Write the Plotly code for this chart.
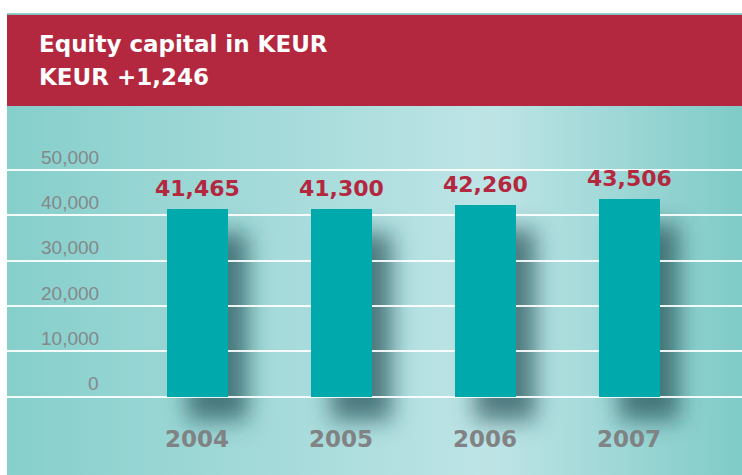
import base64
import plotly.graph_objects as go

# ---- data ----
years = ["2004", "2005", "2006", "2007"]
equity = [41465, 41300, 42260, 43506]
tick_vals = [0, 10000, 20000, 30000, 40000, 50000]
tick_labels = ["0", "10,000", "20,000", "30,000", "40,000", "50,000"]
title_lines = ["Equity capital in KEUR", "KEUR +1,246"]

# ---- style ----
W, H = 742, 475
M_L, M_R, M_T, M_B = 7, 0, 106, 0
PW, PH = W - M_L - M_R, H - M_T - M_B
x_range = [-1.323, 3.785]
y_range = [-17270, 64116]
px_per_cat = PW / (x_range[1] - x_range[0])
px_per_val = PH / (y_range[1] - y_range[0])
bar_w = 0.424
RED = "#B4283F"
BAR = "#00A9AB"
GRAY_TICK = "#858889"
GRAY_YEAR = "#808284"


def svg_uri(svg):
    return "data:image/svg+xml;base64," + base64.b64encode(svg.encode()).decode()


fig = go.Figure()
fig.add_trace(go.Bar(
    x=years, y=equity, width=bar_w,
    marker=dict(color=BAR, line=dict(width=0)),
    hoverinfo="x+y", showlegend=False,
))

images = []
# gradient background
bg_svg = ('<svg xmlns="http://www.w3.org/2000/svg" width="735" height="369" viewBox="0 0 100 100" '
          'preserveAspectRatio="none"><defs><linearGradient id="g" x1="0" x2="1" y1="0" y2="0">'
          '<stop offset="0" stop-color="#86CFCB"/><stop offset="0.66" stop-color="#BEE4E6"/>'
          '<stop offset="1" stop-color="#7FCBC7"/></linearGradient></defs>'
          '<rect x="0" y="0" width="100" height="100" fill="url(#g)"/></svg>')
images.append(dict(source=svg_uri(bg_svg), xref="paper", yref="paper", x=0, y=1,
                   sizex=1, sizey=1, xanchor="left", yanchor="top",
                   sizing="stretch", layer="below"))

# blurred drop shadows, placed in data coordinates behind each bar
sdx, sdy, sigma = 20, 24, 11
pad = 3 * sigma
for i, v in enumerate(equity):
    w_px = bar_w * px_per_cat
    h_px = v * px_per_val
    sw, sh = w_px + 2 * pad, h_px + 2 * pad
    sh_svg = (f'<svg xmlns="http://www.w3.org/2000/svg" width="{sw:.1f}" height="{sh:.1f}" '
              f'viewBox="0 0 {sw:.1f} {sh:.1f}" preserveAspectRatio="none">'
              f'<defs><filter id="b" filterUnits="userSpaceOnUse" x="0" y="0" '
              f'width="{sw:.1f}" height="{sh:.1f}"><feGaussianBlur stdDeviation="{sigma}"/></filter></defs>'
              f'<rect x="{pad}" y="{pad}" width="{w_px:.1f}" height="{h_px:.1f}" '
              f'fill="rgb(25,75,80)" fill-opacity="0.68" filter="url(#b)"/></svg>')
    images.append(dict(source=svg_uri(sh_svg), xref="x", yref="y",
                       x=i - bar_w / 2 + (sdx - pad) / px_per_cat,
                       y=v + (pad - sdy) / px_per_val,
                       sizex=sw / px_per_cat, sizey=sh / px_per_val,
                       xanchor="left", yanchor="top", sizing="stretch", layer="below"))

shapes = []
# header band
band_top = 1 + (M_T - 14.5) / PH
shapes.append(dict(type="rect", xref="paper", yref="paper", x0=0, x1=1,
                   y0=1, y1=band_top, fillcolor=RED, line=dict(width=0), layer="above"))
shapes.append(dict(type="line", xref="paper", yref="paper", x0=0, x1=1,
                   y0=band_top + 0.6 / PH, y1=band_top + 0.6 / PH,
                   line=dict(color="#6FC4C0", width=1.5), layer="above"))

annotations = []
# title lines
for txt, ypx in zip(title_lines, [44, 77]):
    annotations.append(dict(text=txt, xref="paper", yref="paper",
                            x=(37 - M_L) / PW, y=1 + (M_T - ypx) / PH,
                            xanchor="left", yanchor="middle", showarrow=False,
                            font=dict(family="DejaVu Sans", size=23, color="white", weight=700)))
# y tick labels above gridlines
for tv, tl in zip(tick_vals, tick_labels):
    annotations.append(dict(text=tl, xref="paper", yref="y", x=(101 - M_L) / PW, y=tv,
                            xanchor="right", yanchor="middle", yshift=13, showarrow=False,
                            font=dict(family="Liberation Sans", size=19, color=GRAY_TICK)))
# value labels (x = category index)
for i, v in enumerate(equity):
    annotations.append(dict(text=f"{v:,}", x=i, y=v, xref="x", yref="y",
                            xanchor="center", yanchor="bottom", yshift=6, showarrow=False,
                            font=dict(family="DejaVu Sans", size=22, color=RED, weight=700)))
# year labels
for i, yr in enumerate(years):
    annotations.append(dict(text=yr, x=i, y=0, xref="x", yref="y",
                            xanchor="center", yanchor="middle", yshift=-42, showarrow=False,
                            font=dict(family="DejaVu Sans", size=23, color=GRAY_YEAR, weight=700)))

fig.update_layout(
    width=W, height=H,
    margin=dict(l=M_L, r=M_R, t=M_T, b=M_B, pad=0),
    paper_bgcolor="white", plot_bgcolor="rgba(0,0,0,0)",
    images=images, shapes=shapes, annotations=annotations,
    bargap=0, showlegend=False,
    xaxis=dict(type="category", range=x_range, showticklabels=False, showgrid=False,
               zeroline=False, showline=False, ticks=""),
    yaxis=dict(range=y_range, tickvals=tick_vals, showticklabels=False, showgrid=True,
               gridcolor="rgba(255,255,255,0.9)", gridwidth=2, zeroline=False,
               showline=False, ticks=""),
)

fig.write_html("out.html", config={"displayModeBar": False},
               post_script="document.body.style.margin='0';document.body.style.padding='0';")
